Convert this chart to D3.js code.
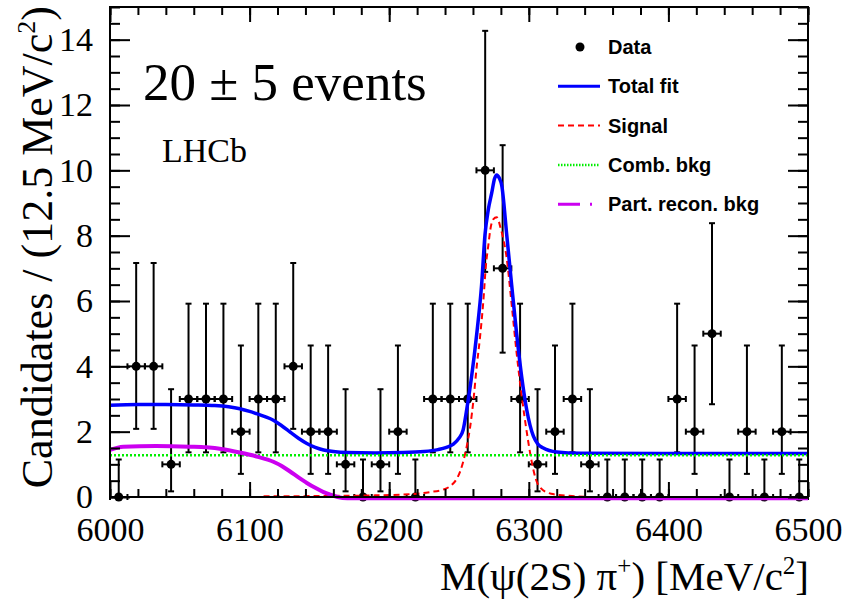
<!DOCTYPE html>
<html>
<head>
<meta charset="utf-8">
<script src="https://cdn.jsdelivr.net/npm/d3@7"></script>
<style>
  body { margin: 0; background: #fff; }
</style>
</head>
<body>
<div id="canvas"></div>
<script>
"use strict"

/* data */
const binCenters = [6006.25, 6018.75, 6031.25, 6043.75, 6056.25, 6068.75, 6081.25, 6093.75,
    6106.25, 6118.75, 6131.25, 6143.75, 6156.25, 6168.75, 6181.25, 6193.75,
    6206.25, 6218.75, 6231.25, 6243.75, 6256.25, 6268.75, 6281.25, 6293.75,
    6306.25, 6318.75, 6331.25, 6343.75, 6356.25, 6368.75, 6381.25, 6393.75,
    6406.25, 6418.75, 6431.25, 6443.75, 6456.25, 6468.75, 6481.25, 6493.75];
const counts = [0, 4, 4, 1, 3, 3, 3, 2, 3, 3, 4, 2, 2, 1, 0, 1, 2, 0, 3, 3,
    3, 10, 7, 3, 1, 2, 3, 1, 0, 0, 0, 0, 3, 2, 5, 0, 2, 0, 2, 0];
const binHalfWidth = 6.25;

/* poisson error band for a count of 0..10 */
const poissonLow = [0, 0.173, 0.708, 1.367, 2.086, 2.840, 3.620, 4.419, 5.232, 6.057, 6.891];
const poissonHigh = [1.148, 3.300, 4.638, 5.918, 7.163, 8.382, 9.584, 10.77, 11.95, 13.11, 14.27];

/* fit curves as [mass, candidates] */
const totalFit = [[6000, 2.81], [6020, 2.83], [6040, 2.83], [6060, 2.82], [6075, 2.80],
    [6085, 2.76], [6093, 2.70], [6100, 2.62], [6105, 2.55], [6111, 2.46], [6117, 2.35],
    [6123, 2.18], [6129, 1.99], [6135, 1.80], [6141, 1.64], [6147, 1.52], [6153, 1.44],
    [6160, 1.39], [6170, 1.36], [6190, 1.35], [6210, 1.36], [6225, 1.39], [6235, 1.45],
    [6241, 1.52], [6246, 1.62], [6250, 1.80], [6253, 2.06], [6255.5, 2.67], [6259, 3.68],
    [6262.7, 4.99], [6266.2, 6.5], [6268.6, 8.02], [6271, 8.8], [6273.4, 9.3], [6275.5, 9.75],
    [6277, 9.86], [6279, 9.75], [6280.6, 9.54], [6284.2, 8.02], [6287.7, 6.5], [6291.3, 4.99],
    [6294.9, 3.68], [6298.5, 2.67], [6303.3, 1.86], [6306.5, 1.62], [6310.4, 1.50],
    [6320, 1.38], [6337, 1.34], [6400, 1.33], [6500, 1.33]];
const signal = [[6110, 0.02], [6150, 0.03], [6190, 0.05], [6220, 0.1], [6229, 0.15],
    [6239, 0.23], [6245, 0.38], [6248, 0.53], [6251, 0.8], [6253, 1.08], [6255.5, 1.54],
    [6258, 2.15], [6260.3, 2.95], [6262.7, 4.0], [6265, 4.87], [6267.4, 5.98], [6269.3, 7.1],
    [6271, 7.7], [6272.5, 8.2], [6274.5, 8.5], [6277, 8.56], [6280, 8.2], [6284.2, 7.3],
    [6287.7, 5.9], [6291.3, 4.4], [6294.9, 3.1], [6298.5, 2.0], [6302, 1.1], [6305, 0.55],
    [6308, 0.3], [6316, 0.1], [6331, 0.03], [6345, 0.0]];
const combBkg = [[6000, 1.28], [6500, 1.28]];
const partRecoBkg = [[6000, 1.44], [6009.5, 1.54], [6033, 1.56], [6057, 1.54], [6069, 1.52],
    [6081, 1.46], [6093, 1.36], [6105, 1.24], [6117, 1.08], [6123, 0.95], [6129, 0.78],
    [6135, 0.60], [6141, 0.43], [6147, 0.28], [6153, 0.15], [6158, 0.07], [6163, 0.0],
    [6170, -0.04], [6500, -0.04]];

const xTicks = [6000, 6100, 6200, 6300, 6400, 6500];
const yTicks = [0, 2, 4, 6, 8, 10, 12, 14];

const legendItems = ["Data", "Total fit", "Signal", "Comb. bkg", "Part. recon. bkg"];

/* canvas */
let drawing = d3.select("#canvas")
    .append("svg")
    .attr("width", 846)
    .attr("height", 600);

const serif = "'Liberation Serif', 'Times New Roman', serif";
const sans = "'Liberation Sans', Arial, sans-serif";

let x = d3.scaleLinear().domain([6000, 6500]).range([110, 808]);
let y = d3.scaleLinear().domain([0, 15]).range([497, 7]);

/* data points with error bars */
let points = drawing.append("g")
    .attr("stroke", "black")
    .attr("stroke-width", 2);

binCenters.forEach(function (c, i) {
    let n = counts[i];
    let cx = x(c), cy = y(n);
    let lo = y(poissonLow[n]), hi = y(poissonHigh[n]);
    let xl = x(c - binHalfWidth), xr = x(c + binHalfWidth);
    points.append("line").attr("x1", cx).attr("x2", cx).attr("y1", lo).attr("y2", hi);
    points.append("line").attr("x1", cx - 3).attr("x2", cx + 3).attr("y1", hi).attr("y2", hi);
    points.append("line").attr("x1", cx - 3).attr("x2", cx + 3).attr("y1", lo).attr("y2", lo);
    points.append("line").attr("x1", xl).attr("x2", xr).attr("y1", cy).attr("y2", cy);
    points.append("line").attr("x1", xl).attr("x2", xl).attr("y1", cy - 3).attr("y2", cy + 3);
    points.append("line").attr("x1", xr).attr("x2", xr).attr("y1", cy - 3).attr("y2", cy + 3);
    points.append("circle").attr("cx", cx).attr("cy", cy).attr("r", 4.5)
        .attr("fill", "black").attr("stroke", "none");
});

/* fit curves */
let curve = d3.line()
    .x(d => x(d[0]))
    .y(d => y(d[1]))
    .curve(d3.curveMonotoneX);

let signalLine = drawing.append("path")
    .attr("d", curve(signal))
    .attr("fill", "none")
    .attr("stroke", "#ff0000")
    .attr("stroke-width", 2)
    .attr("stroke-dasharray", "6,4");

let totalLine = drawing.append("path")
    .attr("d", curve(totalFit))
    .attr("fill", "none")
    .attr("stroke", "#0000ff")
    .attr("stroke-width", 3.5);

let combLine = drawing.append("path")
    .attr("d", curve(combBkg))
    .attr("fill", "none")
    .attr("stroke", "#00ee00")
    .attr("stroke-width", 2.5)
    .attr("stroke-dasharray", "2,2");

let partLine = drawing.append("path")
    .attr("d", curve(partRecoBkg))
    .attr("fill", "none")
    .attr("stroke", "#cc00f0")
    .attr("stroke-width", 4);

/* axes, ticks on all four sides pointing in */
function styleAxis(g) {
    g.select(".domain").remove();
    g.selectAll(".tick line").attr("stroke-width", 2);
    g.selectAll("text")
        .attr("font-family", serif)
        .attr("font-size", 34)
        .attr("fill", "black");
}

drawing.append("g").attr("transform", "translate(0,497)")
    .call(d3.axisBottom(x).ticks(25).tickSize(-8).tickFormat("")).call(styleAxis);
drawing.append("g").attr("transform", "translate(0,497)")
    .call(d3.axisBottom(x).tickValues(xTicks).tickSize(-15).tickPadding(20).tickFormat(d3.format("d")))
    .call(styleAxis);
drawing.append("g").attr("transform", "translate(0,7)")
    .call(d3.axisTop(x).ticks(25).tickSize(-8).tickFormat("")).call(styleAxis);
drawing.append("g").attr("transform", "translate(0,7)")
    .call(d3.axisTop(x).tickValues(xTicks).tickSize(-15).tickFormat("")).call(styleAxis);

drawing.append("g").attr("transform", "translate(110,0)")
    .call(d3.axisLeft(y).ticks(30).tickSize(-10).tickFormat("")).call(styleAxis);
drawing.append("g").attr("transform", "translate(110,0)")
    .call(d3.axisLeft(y).tickValues(yTicks).tickSize(-20).tickPadding(17).tickFormat(d3.format("d")))
    .call(styleAxis);
drawing.append("g").attr("transform", "translate(808,0)")
    .call(d3.axisRight(y).ticks(30).tickSize(-10).tickFormat("")).call(styleAxis);
drawing.append("g").attr("transform", "translate(808,0)")
    .call(d3.axisRight(y).tickValues(yTicks).tickSize(-20).tickFormat("")).call(styleAxis);

/* frame */
let frame = drawing.append("rect")
    .attr("x", 110)
    .attr("y", 7)
    .attr("width", 698)
    .attr("height", 490)
    .attr("fill", "none")
    .attr("stroke", "black")
    .attr("stroke-width", 2);

/* axis titles */
let xTitle = drawing.append("text")
    .attr("x", 809)
    .attr("y", 590)
    .attr("text-anchor", "end")
    .attr("font-family", serif)
    .attr("font-size", 41);
xTitle.append("tspan").text("M(\u03c8(2S) \u03c0");
xTitle.append("tspan").attr("font-size", 25).attr("dy", -16).text("+");
xTitle.append("tspan").attr("dy", 16).text(") [MeV/c");
xTitle.append("tspan").attr("font-size", 25).attr("dy", -16).text("2");
xTitle.append("tspan").attr("dy", 16).text("]");

let yTitle = drawing.append("text")
    .attr("transform", "translate(52,6) rotate(-90)")
    .attr("text-anchor", "end")
    .attr("font-family", serif)
    .attr("font-size", 44);
yTitle.append("tspan").text("Candidates / (12.5 MeV/c");
yTitle.append("tspan").attr("font-size", 26).attr("dy", -17).text("2");
yTitle.append("tspan").attr("dy", 17).text(")");

/* annotations */
drawing.append("text")
    .attr("x", 143)
    .attr("y", 100)
    .attr("font-family", serif)
    .attr("font-size", 53)
    .text("20 \u00b1 5 events");

drawing.append("text")
    .attr("x", 162)
    .attr("y", 162)
    .attr("font-family", serif)
    .attr("font-size", 34)
    .text("LHCb");

/* legend */
let legend = drawing.append("g");
legendItems.forEach(function (name, i) {
    let ly = 47 + i * 39.3;
    legend.append("text")
        .attr("x", 608)
        .attr("y", ly + 7)
        .attr("font-family", sans)
        .attr("font-weight", "bold")
        .attr("font-size", 20)
        .text(name);
});
legend.append("circle").attr("cx", 580).attr("cy", 47).attr("r", 4.5).attr("fill", "black");
legend.append("line").attr("x1", 558).attr("x2", 600).attr("y1", 86.3).attr("y2", 86.3)
    .attr("stroke", "#0000ff").attr("stroke-width", 3);
legend.append("line").attr("x1", 558).attr("x2", 600).attr("y1", 125.6).attr("y2", 125.6)
    .attr("stroke", "#ff0000").attr("stroke-width", 2).attr("stroke-dasharray", "6,4");
legend.append("line").attr("x1", 558).attr("x2", 600).attr("y1", 164.9).attr("y2", 164.9)
    .attr("stroke", "#00ee00").attr("stroke-width", 2.5).attr("stroke-dasharray", "1.5,1.5");
legend.append("line").attr("x1", 558).attr("x2", 600).attr("y1", 204.2).attr("y2", 204.2)
    .attr("stroke", "#cc00f0").attr("stroke-width", 3).attr("stroke-dasharray", "22,10,2,10");
</script>
</body>
</html>
